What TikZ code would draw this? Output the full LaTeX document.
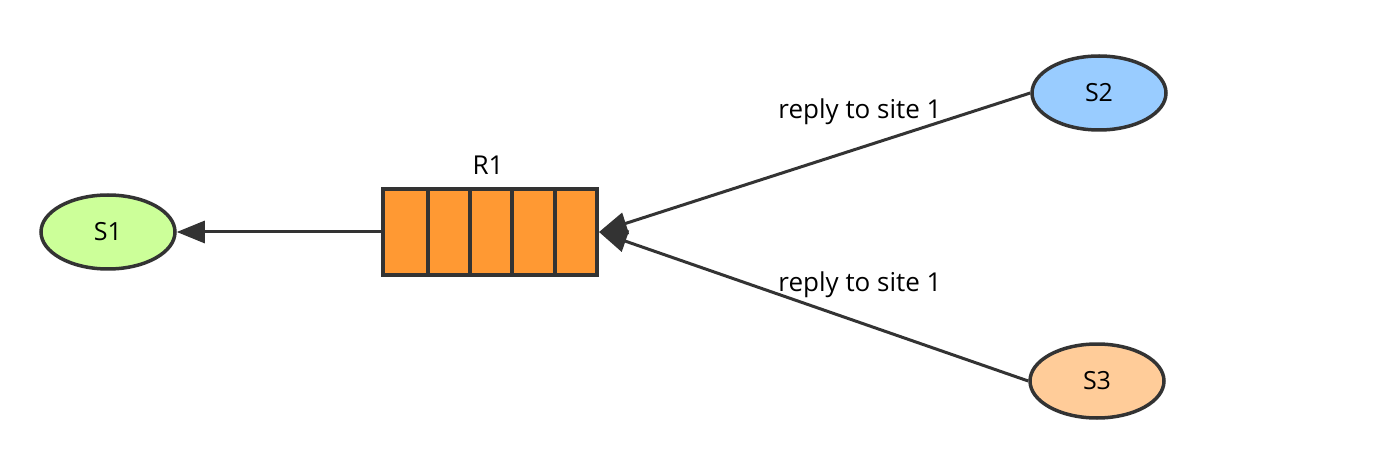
\documentclass[tikz,border=0pt]{standalone}
\usepackage{fontspec}
\setmainfont{Open Sans}
\usetikzlibrary{shapes.geometric,arrows.meta}
\definecolor{edge}{HTML}{333333}
\definecolor{green1}{HTML}{CCFF99}
\definecolor{blue1}{HTML}{99CCFF}
\definecolor{peach1}{HTML}{FFCC99}
\definecolor{orange1}{HTML}{FF9933}
\tikzset{
  site/.style={ellipse, draw=edge, line width=3.5pt, minimum width=134pt, minimum height=74pt, inner sep=0pt, font=\fontsize{25}{30}\selectfont},
  conn/.style={draw=edge, line width=3pt, -{Triangle[length=28pt,width=22pt]}},
  lbl/.style={font=\fontsize{26}{31}\selectfont, text=black},
  cell/.style={draw=edge, line width=4pt}
}
\begin{document}
\begin{tikzpicture}[x=1pt,y=-1pt]
\useasboundingbox (0,0) rectangle (1392,462);
\node[site, fill=green1] (s1) at (108,232) {S1};
\node[site, fill=blue1] (s2) at (1099,93) {S2};
\node[site, fill=peach1] (s3) at (1097,381) {S3};
\node[draw=edge, line width=4pt, fill=orange1, minimum width=214pt, minimum height=86pt, inner sep=0pt] (q) at (490,232) {};
\foreach \x in {428,470,512,555} \draw[cell] (\x,189) -- (\x,275);
\node[lbl] (r1) at (488,165) {R1};
\draw[conn] (q.west) -- (s1.east);
\draw[conn] (s2.west) -- (q.east);
\draw[conn] (s3.west) -- (q.east);
\node[lbl] (l1) at (860,112) {reply to site 1};
\node[lbl] (l2) at (860,285) {reply to site 1};
\end{tikzpicture}
\end{document}
